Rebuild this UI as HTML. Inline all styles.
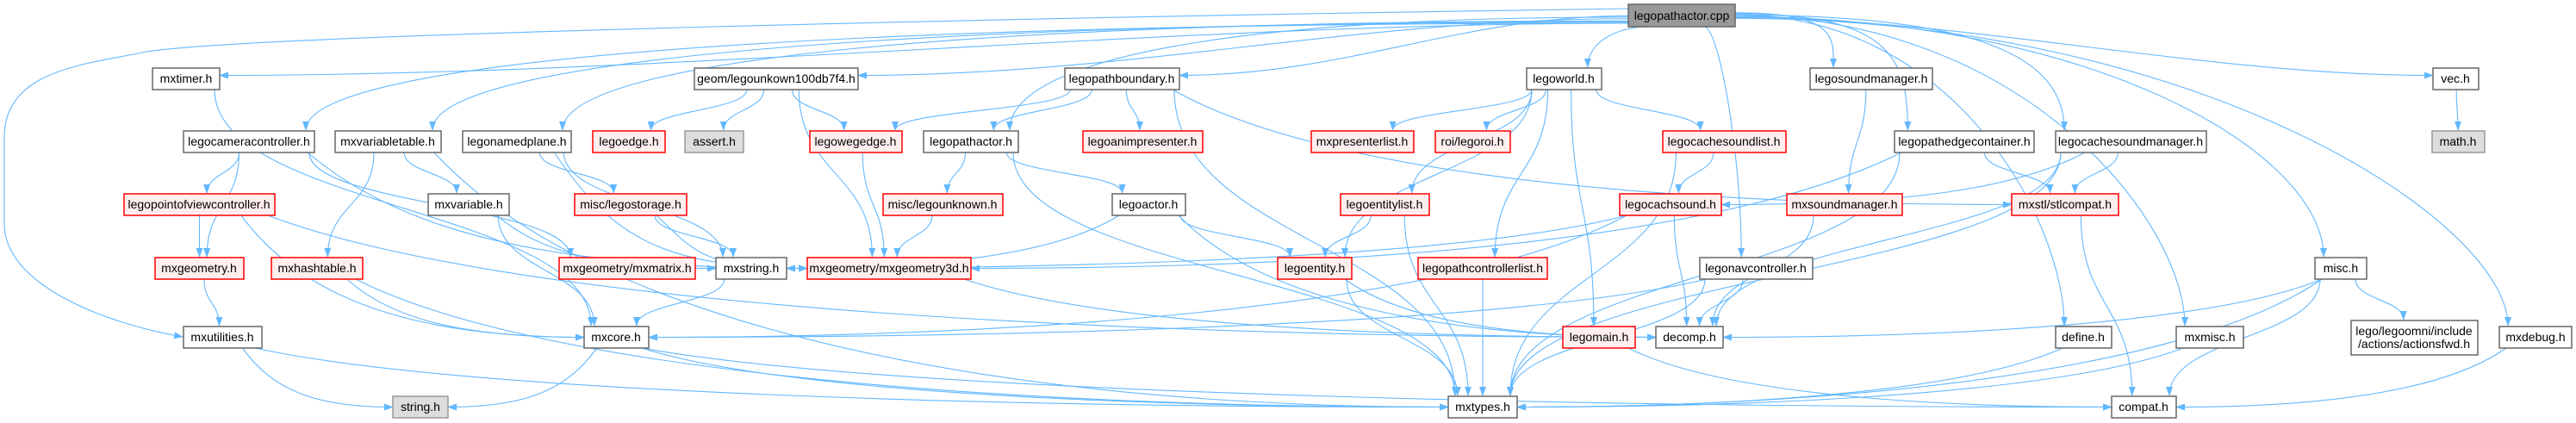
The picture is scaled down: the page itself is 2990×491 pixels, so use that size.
<!DOCTYPE html>
<html><head><meta charset="utf-8"><style>
html,body{margin:0;padding:0;background:#fff;}
svg{display:block;}
text{font-family:"Liberation Sans",sans-serif;font-size:14px;fill:#000;}
</style></head><body>
<svg id="g" width="2990" height="491" xmlns="http://www.w3.org/2000/svg">
<defs><marker id="a" markerWidth="11" markerHeight="8" refX="10" refY="4" orient="auto" markerUnits="userSpaceOnUse"><path d="M0,0 L11,4 L0,8 z" fill="#63b8ff"/></marker></defs>
<g id="edges" fill="none" stroke="#63b8ff" stroke-width="1.1"></g>
<g id="nodes">
<rect x="1890" y="5" width="124" height="26" fill="#999" stroke="#666" stroke-width="1.5"/><text x="1952" y="23" text-anchor="middle">legopathactor.cpp</text>
<rect x="177" y="79" width="78" height="25" fill="#fff" stroke="#666" stroke-width="1.5"/><text x="216" y="96" text-anchor="middle">mxtimer.h</text>
<rect x="806" y="79" width="190" height="25" fill="#fff" stroke="#666" stroke-width="1.5"/><text x="901" y="96" text-anchor="middle">geom/legounkown100db7f4.h</text>
<rect x="1236" y="79" width="133" height="25" fill="#fff" stroke="#666" stroke-width="1.5"/><text x="1302" y="96" text-anchor="middle">legopathboundary.h</text>
<rect x="1772" y="79" width="87" height="25" fill="#fff" stroke="#666" stroke-width="1.5"/><text x="1815" y="96" text-anchor="middle">legoworld.h</text>
<rect x="2101" y="79" width="142" height="25" fill="#fff" stroke="#666" stroke-width="1.5"/><text x="2172" y="96" text-anchor="middle">legosoundmanager.h</text>
<rect x="2824" y="79" width="53" height="25" fill="#fff" stroke="#666" stroke-width="1.5"/><text x="2850" y="96" text-anchor="middle">vec.h</text>
<rect x="213" y="152" width="152" height="25" fill="#fff" stroke="#666" stroke-width="1.5"/><text x="289" y="169" text-anchor="middle">legocameracontroller.h</text>
<rect x="389" y="152" width="123" height="25" fill="#fff" stroke="#666" stroke-width="1.5"/><text x="450" y="169" text-anchor="middle">mxvariabletable.h</text>
<rect x="537" y="152" width="126" height="25" fill="#fff" stroke="#666" stroke-width="1.5"/><text x="600" y="169" text-anchor="middle">legonamedplane.h</text>
<rect x="688" y="152" width="84" height="25" fill="#fee" stroke="#f00" stroke-width="1.5"/><text x="730" y="169" text-anchor="middle">legoedge.h</text>
<rect x="795" y="152" width="68" height="25" fill="#ddd" stroke="#999" stroke-width="1.5"/><text x="829" y="169" text-anchor="middle">assert.h</text>
<rect x="940" y="152" width="107" height="25" fill="#fee" stroke="#f00" stroke-width="1.5"/><text x="993" y="169" text-anchor="middle">legowegedge.h</text>
<rect x="1072" y="152" width="110" height="25" fill="#fff" stroke="#666" stroke-width="1.5"/><text x="1127" y="169" text-anchor="middle">legopathactor.h</text>
<rect x="1257" y="152" width="139" height="25" fill="#fee" stroke="#f00" stroke-width="1.5"/><text x="1326" y="169" text-anchor="middle">legoanimpresenter.h</text>
<rect x="1522" y="152" width="119" height="25" fill="#fee" stroke="#f00" stroke-width="1.5"/><text x="1581" y="169" text-anchor="middle">mxpresenterlist.h</text>
<rect x="1666" y="152" width="87" height="25" fill="#fee" stroke="#f00" stroke-width="1.5"/><text x="1709" y="169" text-anchor="middle">roi/legoroi.h</text>
<rect x="1930" y="152" width="143" height="25" fill="#fee" stroke="#f00" stroke-width="1.5"/><text x="2001" y="169" text-anchor="middle">legocachesoundlist.h</text>
<rect x="2199" y="152" width="162" height="25" fill="#fff" stroke="#666" stroke-width="1.5"/><text x="2280" y="169" text-anchor="middle">legopathedgecontainer.h</text>
<rect x="2386" y="152" width="175" height="25" fill="#fff" stroke="#666" stroke-width="1.5"/><text x="2473" y="169" text-anchor="middle">legocachesoundmanager.h</text>
<rect x="2823" y="152" width="61" height="25" fill="#ddd" stroke="#999" stroke-width="1.5"/><text x="2853" y="169" text-anchor="middle">math.h</text>
<rect x="144" y="225" width="175" height="25" fill="#fee" stroke="#f00" stroke-width="1.5"/><text x="231" y="242" text-anchor="middle">legopointofviewcontroller.h</text>
<rect x="497" y="225" width="94" height="25" fill="#fff" stroke="#666" stroke-width="1.5"/><text x="544" y="242" text-anchor="middle">mxvariable.h</text>
<rect x="667" y="225" width="130" height="25" fill="#fee" stroke="#f00" stroke-width="1.5"/><text x="732" y="242" text-anchor="middle">misc/legostorage.h</text>
<rect x="1025" y="225" width="139" height="25" fill="#fee" stroke="#f00" stroke-width="1.5"/><text x="1094" y="242" text-anchor="middle">misc/legounknown.h</text>
<rect x="1291" y="225" width="85" height="25" fill="#fff" stroke="#666" stroke-width="1.5"/><text x="1333" y="242" text-anchor="middle">legoactor.h</text>
<rect x="1556" y="225" width="103" height="25" fill="#fee" stroke="#f00" stroke-width="1.5"/><text x="1607" y="242" text-anchor="middle">legoentitylist.h</text>
<rect x="1880" y="225" width="118" height="25" fill="#fee" stroke="#f00" stroke-width="1.5"/><text x="1939" y="242" text-anchor="middle">legocachsound.h</text>
<rect x="2074" y="225" width="134" height="25" fill="#fee" stroke="#f00" stroke-width="1.5"/><text x="2141" y="242" text-anchor="middle">mxsoundmanager.h</text>
<rect x="2335" y="225" width="124" height="25" fill="#fee" stroke="#f00" stroke-width="1.5"/><text x="2397" y="242" text-anchor="middle">mxstl/stlcompat.h</text>
<rect x="180" y="299" width="103" height="25" fill="#fee" stroke="#f00" stroke-width="1.5"/><text x="231" y="316" text-anchor="middle">mxgeometry.h</text>
<rect x="315" y="299" width="106" height="25" fill="#fee" stroke="#f00" stroke-width="1.5"/><text x="368" y="316" text-anchor="middle">mxhashtable.h</text>
<rect x="649" y="299" width="158" height="25" fill="#fee" stroke="#f00" stroke-width="1.5"/><text x="728" y="316" text-anchor="middle">mxgeometry/mxmatrix.h</text>
<rect x="831" y="299" width="82" height="25" fill="#fff" stroke="#666" stroke-width="1.5"/><text x="872" y="316" text-anchor="middle">mxstring.h</text>
<rect x="937" y="299" width="190" height="25" fill="#fee" stroke="#f00" stroke-width="1.5"/><text x="1032" y="316" text-anchor="middle">mxgeometry/mxgeometry3d.h</text>
<rect x="1483" y="299" width="86" height="25" fill="#fee" stroke="#f00" stroke-width="1.5"/><text x="1526" y="316" text-anchor="middle">legoentity.h</text>
<rect x="1646" y="299" width="150" height="25" fill="#fee" stroke="#f00" stroke-width="1.5"/><text x="1721" y="316" text-anchor="middle">legopathcontrollerlist.h</text>
<rect x="1973" y="299" width="131" height="25" fill="#fff" stroke="#666" stroke-width="1.5"/><text x="2038" y="316" text-anchor="middle">legonavcontroller.h</text>
<rect x="2687" y="299" width="60" height="25" fill="#fff" stroke="#666" stroke-width="1.5"/><text x="2717" y="316" text-anchor="middle">misc.h</text>
<rect x="213" y="379" width="91" height="25" fill="#fff" stroke="#666" stroke-width="1.5"/><text x="258" y="396" text-anchor="middle">mxutilities.h</text>
<rect x="678" y="379" width="75" height="25" fill="#fff" stroke="#666" stroke-width="1.5"/><text x="715" y="396" text-anchor="middle">mxcore.h</text>
<rect x="1814" y="379" width="84" height="25" fill="#fee" stroke="#f00" stroke-width="1.5"/><text x="1856" y="396" text-anchor="middle">legomain.h</text>
<rect x="1922" y="379" width="78" height="25" fill="#fff" stroke="#666" stroke-width="1.5"/><text x="1961" y="396" text-anchor="middle">decomp.h</text>
<rect x="2386" y="379" width="65" height="25" fill="#fff" stroke="#666" stroke-width="1.5"/><text x="2418" y="396" text-anchor="middle">define.h</text>
<rect x="2526" y="379" width="78" height="25" fill="#fff" stroke="#666" stroke-width="1.5"/><text x="2565" y="396" text-anchor="middle">mxmisc.h</text>
<rect x="2729" y="372" width="147" height="40" fill="#fff" stroke="#666" stroke-width="1.5"/><text x="2802" y="389" text-anchor="middle">lego/legoomni/include</text><text x="2802" y="404" text-anchor="middle">/actions/actionsfwd.h</text>
<rect x="2901" y="379" width="84" height="25" fill="#fff" stroke="#666" stroke-width="1.5"/><text x="2943" y="396" text-anchor="middle">mxdebug.h</text>
<rect x="456" y="460" width="64" height="25" fill="#ddd" stroke="#999" stroke-width="1.5"/><text x="488" y="477" text-anchor="middle">string.h</text>
<rect x="1681" y="460" width="80" height="25" fill="#fff" stroke="#666" stroke-width="1.5"/><text x="1721" y="477" text-anchor="middle">mxtypes.h</text>
<rect x="2451" y="460" width="75" height="25" fill="#fff" stroke="#666" stroke-width="1.5"/><text x="2488" y="477" text-anchor="middle">compat.h</text>
</g>
</svg>
<script>
var N={};
document.querySelectorAll('#nodes rect').forEach(function(r){
  var t=r.nextElementSibling; var name=t.textContent;
  if(name.indexOf('lego/legoomni')==0) name='actionsfwd';
  N[name]={x:+r.getAttribute('x'),y:+r.getAttribute('y'),w:+r.getAttribute('width'),h:+r.getAttribute('height')};
});
var HUB={'mxtypes.h':1,'compat.h':1,'decomp.h':1,'mxcore.h':1,'mxstring.h':1,'mxgeometry/mxgeometry3d.h':1,'string.h':1,'mxstl/stlcompat.h':1,'legocachsound.h':1};
var E=[
['legopathactor.cpp','mxtimer.h'],['legopathactor.cpp','legocameracontroller.h'],['legopathactor.cpp','mxvariabletable.h'],['legopathactor.cpp','legonamedplane.h'],['legopathactor.cpp','geom/legounkown100db7f4.h'],['legopathactor.cpp','legopathboundary.h'],['legopathactor.cpp','legopathactor.h'],['legopathactor.cpp','legoworld.h'],['legopathactor.cpp','legonavcontroller.h'],['legopathactor.cpp','legosoundmanager.h'],['legopathactor.cpp','legopathedgecontainer.h'],['legopathactor.cpp','legocachesoundmanager.h'],['legopathactor.cpp','misc.h'],['legopathactor.cpp','define.h'],['legopathactor.cpp','mxmisc.h'],['legopathactor.cpp','mxdebug.h'],['legopathactor.cpp','vec.h'],
['mxtimer.h','mxcore.h'],
['legocameracontroller.h','legopointofviewcontroller.h'],['legocameracontroller.h','mxgeometry.h'],['legocameracontroller.h','mxgeometry/mxmatrix.h'],['legocameracontroller.h','mxgeometry/mxgeometry3d.h'],
['legopointofviewcontroller.h','mxgeometry.h'],['legopointofviewcontroller.h','mxcore.h'],['legopointofviewcontroller.h','decomp.h'],
['mxvariabletable.h','mxhashtable.h'],['mxvariabletable.h','mxvariable.h'],['mxvariabletable.h','mxtypes.h'],
['mxvariable.h','mxcore.h'],['mxvariable.h','mxstring.h'],
['legonamedplane.h','misc/legostorage.h'],['legonamedplane.h','mxgeometry/mxgeometry3d.h'],['legonamedplane.h','mxstring.h'],
['misc/legostorage.h','mxstring.h'],['misc/legostorage.h','mxgeometry/mxgeometry3d.h'],
['mxgeometry.h','mxutilities.h'],['mxhashtable.h','mxcore.h'],['mxhashtable.h','mxtypes.h'],
['mxutilities.h','string.h'],['mxutilities.h','mxtypes.h'],
['mxcore.h','string.h'],['mxcore.h','mxtypes.h'],['mxcore.h','compat.h'],
['mxstring.h','mxcore.h'],['mxgeometry/mxgeometry3d.h','decomp.h'],
['geom/legounkown100db7f4.h','legoedge.h'],['geom/legounkown100db7f4.h','assert.h'],['geom/legounkown100db7f4.h','legowegedge.h'],['geom/legounkown100db7f4.h','mxgeometry/mxgeometry3d.h'],
['legowegedge.h','mxgeometry/mxgeometry3d.h'],
['legopathboundary.h','legowegedge.h'],['legopathboundary.h','legopathactor.h'],['legopathboundary.h','legoanimpresenter.h'],['legopathboundary.h','mxtypes.h'],['legopathboundary.h','mxstl/stlcompat.h'],
['legopathactor.h','misc/legounknown.h'],['legopathactor.h','legoactor.h'],['legopathactor.h','mxtypes.h'],
['misc/legounknown.h','mxgeometry/mxgeometry3d.h'],
['legoactor.h','legoentity.h'],['legoactor.h','decomp.h'],['legoactor.h','mxstring.h'],
['legoworld.h','mxpresenterlist.h'],['legoworld.h','roi/legoroi.h'],['legoworld.h','legoentitylist.h'],['legoworld.h','legopathcontrollerlist.h'],['legoworld.h','legomain.h'],['legoworld.h','legocachesoundlist.h'],['legoworld.h','legoentity.h'],
['legoentitylist.h','legoentity.h'],['legoentitylist.h','mxtypes.h'],
['legoentity.h','decomp.h'],['legoentity.h','mxtypes.h'],['legopathcontrollerlist.h','mxtypes.h'],['legomain.h','compat.h'],
['legocachesoundlist.h','legocachsound.h'],['legocachesoundlist.h','mxtypes.h'],
['legocachsound.h','mxcore.h'],['legocachsound.h','decomp.h'],['legocachsound.h','mxstring.h'],
['legosoundmanager.h','mxsoundmanager.h'],['mxsoundmanager.h','decomp.h'],
['legonavcontroller.h','mxcore.h'],['legonavcontroller.h','decomp.h'],['legonavcontroller.h','mxtypes.h'],
['legopathedgecontainer.h','mxstl/stlcompat.h'],['legopathedgecontainer.h','mxgeometry/mxgeometry3d.h'],['legopathedgecontainer.h','mxtypes.h'],
['legocachesoundmanager.h','legocachsound.h'],['legocachesoundmanager.h','mxstl/stlcompat.h'],['legocachesoundmanager.h','decomp.h'],['legocachesoundmanager.h','mxtypes.h'],
['mxstl/stlcompat.h','compat.h'],
['misc.h','decomp.h'],['misc.h','mxtypes.h'],['misc.h','compat.h'],['misc.h','actionsfwd'],
['define.h','mxtypes.h'],['mxmisc.h','mxtypes.h'],['mxdebug.h','compat.h'],['vec.h','math.h']
];
var g=document.getElementById('edges'),ns='http://www.w3.org/2000/svg';
function add(d){var p=document.createElementNS(ns,'path');p.setAttribute('d',d);p.setAttribute('marker-end','url(#a)');g.appendChild(p);}
add('M1890,10 C1200,20 300,40 170,60 C100,75 5,80 5,160 L5,260 C5,330 120,375 212,391');
E.forEach(function(e){
  var s=N[e[0]],t=N[e[1]];if(!s||!t)return;
  var scx=s.x+s.w/2,tcx=t.x+t.w/2,sy=s.y+s.h,ty=t.y;
  var dx=tcx-scx,dy=ty-sy,d,sx,ex,ey;
  if(e[0]=='legopathactor.cpp'){
    if(Math.abs(dx)>200){sx=dx<0?s.x:s.x+s.w; sy=s.y+8+Math.min(14,Math.abs(dx)/120);}
    else {sx=scx+dx*0.3;}
    if(t.y<110 && Math.abs(dx)>6*dy){
      ex=dx<0?t.x+t.w:t.x; ey=t.y+t.h/2-4;
      d='M'+sx+','+sy+' C'+(sx+dx*0.3)+','+sy+' '+(ex-dx*0.3)+','+ey+' '+ex+','+ey;
    } else {
      ex=tcx+Math.max(-t.w/2+10,Math.min(t.w/2-10,-dx*0.2));
      var c1x=Math.abs(dx)>200?sx+dx*0.55:sx+dx*0.2;
      d='M'+sx+','+sy+' C'+c1x+','+sy+' '+ex+','+(ty-Math.min(120,dy*0.7))+' '+ex+','+(ty-1);
    }
    add(d);return;
  }
  if(HUB[e[1]] && dy>0 && Math.abs(dx)>3.2*dy){
    sx=scx+Math.max(-s.w/2+8,Math.min(s.w/2-8,dx*0.1));
    ex=dx<0?t.x+t.w:t.x; ey=t.y+t.h/2;
    d='M'+sx+','+sy+' C'+(sx+dx*0.15)+','+(sy+(ey-sy)*0.7)+' '+(ex-dx*0.4)+','+ey+' '+ex+','+ey;
  } else {
    sx=scx+Math.max(-s.w/2+6,Math.min(s.w/2-6,dx*0.2));
    ex=tcx+Math.max(-t.w/2+8,Math.min(t.w/2-8,-dx*0.15));
    d='M'+sx+','+sy+' C'+sx+','+(sy+dy*0.5)+' '+ex+','+(ty-dy*0.5)+' '+ex+','+(ty-1);
  }
  add(d);
});
</script>
</body></html>
